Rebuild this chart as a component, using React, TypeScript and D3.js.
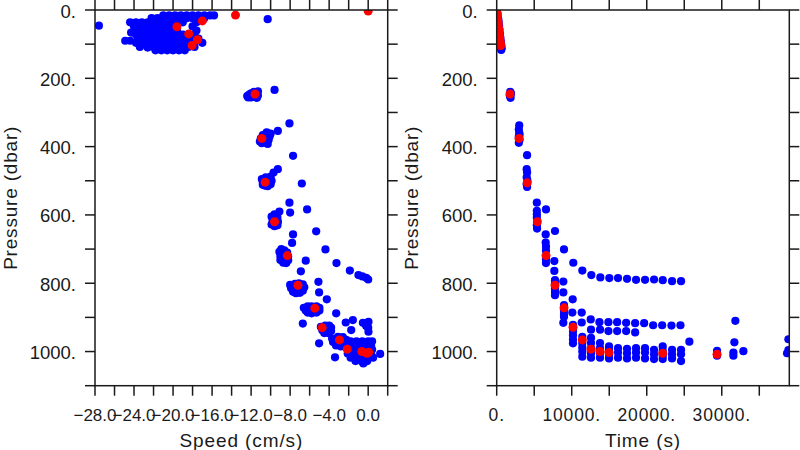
import React from "react";
import * as d3 from "d3";

type P = [number, number];

// ---------- Left panel: speed (cm/s) vs pressure (dbar) ----------
const speedSurfaceBlob: P[] = [
  [-21.0,16],[-20.4,16],[-19.8,16],[-19.2,16],[-18.6,16],[-18.0,16],[-17.4,16],[-16.8,16],[-16.2,16],[-15.8,16],
  [-22.2,24],[-21.6,24],[-21.0,24],[-20.4,24],[-19.8,24],[-19.2,24],[-18.6,24],[-18.0,24],[-17.4,24],[-16.8,24],
  [-24.4,36],[-23.8,36],[-23.2,36],[-22.6,36],[-22.0,36],[-21.4,36],[-20.8,36],[-20.2,36],[-19.6,36],[-19.0,36],[-17.6,36],
  [-24.0,48],[-23.4,48],[-22.8,48],[-22.2,48],[-21.6,48],[-21.0,48],[-20.4,48],[-19.8,48],[-18.0,48],
  [-23.8,60],[-23.2,60],[-22.6,60],[-22.0,60],[-21.4,60],[-20.8,60],[-20.2,60],[-19.6,60],[-17.6,60],
  [-23.8,72],[-23.2,72],[-22.6,72],[-22.0,72],[-21.4,72],[-20.8,72],[-20.2,72],[-19.6,72],[-19.0,72],[-17.8,72],
  [-23.6,84],[-23.0,84],[-22.4,84],[-21.8,84],[-21.2,84],[-20.6,84],[-20.0,84],[-19.4,84],[-18.8,84],[-18.2,84],[-17.4,84],
  [-23.8,96],[-23.2,96],[-22.6,96],[-22.0,96],[-21.4,96],[-20.8,96],[-20.2,96],[-19.6,96],[-19.0,96],[-18.4,96],[-17.8,96],[-17.0,96],
  [-23.4,108],[-22.6,108],[-22.0,108],[-21.4,108],[-20.8,108],[-20.2,108],[-19.6,108],[-19.0,108],[-18.4,108],[-17.8,108],
  [-21.8,118],[-21.2,118],[-20.6,118],[-20.0,118],[-19.4,118],[-18.8,118],
  [-27.6,46],[-24.9,90],[-24.4,90],[-24.3,66],[-22.6,110],[-10.3,27],
];
const speedMidDepth: P[] = [
  [-12.4,252],[-12.2,248],[-12.0,256],[-11.6,255],[-11.3,250],[-11.4,242],[-11.7,240],[-12.0,244],[-12.3,256],[-11.8,250],[-11.4,257],[-11.3,238],[-9.6,234],
  [-11.1,385],[-10.9,390],[-10.5,388],[-10.2,380],[-10.1,370],[-10.0,362],[-10.4,358],[-10.8,366],[-11.0,376],[-10.6,375],[-10.3,392],[-9.26,354],[-8.07,332],
  [-10.9,495],[-10.8,505],[-10.6,514],[-10.3,516],[-10.0,510],[-9.9,500],[-10.2,492],[-10.0,488],[-10.5,490],[-10.8,512],[-9.7,476],[-9.26,466],[-6.8,508],[-7.7,427],
  [-8.07,564],[-8.0,593],[-6.26,584],
  [-9.9,605],[-9.8,618],[-9.9,628],[-9.6,633],[-9.3,630],[-9.25,620],[-9.3,608],[-9.4,600],[-9.6,598],[-9.1,590],[-9.5,612],
  [-7.7,657],[-7.8,682],[-5.33,648],[-4.38,701],
  [-9.1,708],[-9.0,720],[-9.0,732],[-8.7,740],[-8.4,741],[-8.2,733],[-8.2,722],[-8.3,710],[-8.6,704],[-8.9,700],[-8.6,728],
  [-6.4,734],[-6.9,765],[-3.25,741],[-1.88,763],[-1.0,776],[-0.6,780],[-0.2,784],[0.0,789],
];
const speedDeep: P[] = [
  [-8.0,805],[-7.9,815],[-7.7,825],[-7.4,829],[-7.0,828],[-6.7,822],[-6.55,812],[-6.7,803],[-7.1,800],[-7.5,802],[-7.4,815],[-6.9,815],
  [-5.1,796],[-5.03,827],[-4.24,847],
  [-6.6,872],[-6.4,880],[-6.2,886],[-5.8,888],[-5.3,886],[-5.0,880],[-5.0,872],[-5.3,868],[-5.8,868],[-6.2,868],[-5.9,878],[-5.5,878],[-6.7,918],
  [-3.28,888],[-2.3,915],[-1.57,908],[-1.74,937],[-0.54,916],[0.03,913],[0.03,942],[-0.2,925],[0.0,930],
  [-4.85,928],[-4.7,938],[-4.5,946],[-4.1,946],[-3.8,940],[-3.8,930],[-4.0,924],[-4.4,924],[-4.3,935],[-5.03,976],
  [-3.7,962],[-3.6,972],[-3.3,982],[-2.8,985],[-2.3,978],[-2.25,966],[-2.6,958],[-3.1,957],[-3.3,966],[-2.8,972],[-3.4,1017],
  [-1.8,970],[-1.2,970],[-0.6,970],[0.0,970],[0.4,970],
  [-2.1,982],[-1.5,982],[-0.9,982],[-0.3,982],[0.3,982],
  [-2.0,994],[-1.4,994],[-0.8,994],[-0.2,994],[0.4,994],
  [-2.1,1006],[-1.5,1006],[-0.9,1006],[-0.3,1006],[0.3,1006],
  [-1.8,1018],[-1.2,1018],[-0.6,1018],[0.0,1018],[0.5,1018],
  [-1.3,1028],[-0.7,1028],[-0.1,1028],[-0.5,1035],[1.23,1007],
];
const speedMeans: P[] = [
  [0.0,3],[-13.6,15],[-17.0,32],[-19.6,49],[-18.4,70],[-17.5,87],[-18.05,104],
  [-11.6,246],[-10.9,376],[-10.56,504],[-9.6,620],[-8.28,719],[-7.2,806],[-5.47,873],
  [-4.72,930],[-2.94,966],[-2.15,993],[-0.65,1000],[-0.13,1005],[0.05,1002],
];

// ---------- Right panel: time (s) vs pressure (dbar) ----------
const timeDescent: P[] = [
  [120,12],[200,25],[260,35],[320,47],[380,58],[440,70],[500,82],[560,93],[620,104],[660,112],[600,117],
  [1800,240],[1850,246],[1800,252],[1850,257],[1900,244],[1750,250],
  [3000,338],[2950,350],[3000,360],[2950,370],[3050,380],[2950,389],[3050,365],
  [4050,425],[4000,466],[4050,476],[4000,490],[4100,500],[4000,510],[4050,518],
  [5350,564],[5350,588],[5350,598],[5350,608],[5350,630],[5380,640],[6570,584],
  [6530,657],[6530,681],[7770,647],[6570,693],[6570,705],[6570,730],[6570,741],[8970,701],[7680,735],[7680,764],[10210,740],
  [7770,791],[7770,800],[7770,815],[7770,825],[7770,835],[8880,795],[8880,827],[10130,847],
  [8970,864],[8970,880],[8970,890],[8970,898],[10080,886],[11330,886],[8880,916],
  [10170,922],[10170,940],[10170,952],[10170,965],[10170,976],
  [11410,957],[11410,975],[11410,988],[11410,1000],[11410,1015],
];
const timeParked: P[] = [
  [11413,763],[12613,776],[13813,783],[15013,785],[16173,785],[17373,787],[18573,790],[19773,790],[20973,789],[22133,791],[23373,794],[24573,794],
  [11333,915],[12533,906],[13693,914],[14893,914],[16053,914],[17253,916],[18453,917],[19653,917],[20853,923],[22053,923],[23293,924],[24493,923],
  [12573,936],[13773,936],[14893,940],[16053,940],[17253,940],[18453,944],
  [12570,960],[12570,975],[12570,990],[12570,1005],[12570,1018],
  [13770,975],[13770,990],[13770,1005],[13770,1018],
  [14970,985],[14970,995],[14970,1010],[14970,1020],
  [16170,990],[16170,1003],[16170,1018],
  [17370,992],[17370,1005],[17370,1020],
  [18570,990],[18570,1003],[18570,1018],
  [19770,990],[19770,1003],[19770,1020],
  [20970,995],[20970,1008],[20970,1022],
  [22130,985],[22130,998],[22130,1012],[22130,1022],
  [23370,995],[23370,1008],[23370,1020],
  [24570,995],[24570,1008],[24570,1028],
  [25680,971],[29370,998],[29370,1012],[31810,910],[31680,973],[31550,1003],[31550,1012],[32880,999],
  [38880,964],[38700,1005],[38880,996],
];
const timeMeans: P[] = [
  [0,2],[40,10],[80,18],[130,28],[180,38],[230,48],[280,58],[330,68],[380,78],[430,88],[480,96],[530,104],
  [1773,246],[2973,376],[4070,506],[5413,620],[6573,719],[7773,806],[8973,872],[10173,929],[11413,966],
  [12570,993],[13770,1000],[14970,1003],[22130,1005],[29370,1008],
];

// ---------- Axes ----------
const speedTicks = [-28,-26,-24,-22,-20,-18,-16,-14,-12,-10,-8,-6,-4,-2,0,2];
const speedLabels = [-28,-24,-20,-16,-12,-8,-4,0];
const timeTicks = [0,5000,10000,15000,20000,25000,30000,35000];
const timeLabels = [0,10000,20000,30000];
const pressureTicks = [0,100,200,300,400,500,600,700,800,900,1000,1100];
const pressureLabels = [0,200,400,600,800,1000];

const FONT = "'Liberation Sans', Arial, sans-serif";
const INK = "#1a1a1a";
const TICK = 10;

interface PanelProps {
  id: string;
  x: d3.ScaleLinear<number, number>;
  y: d3.ScaleLinear<number, number>;
  xTicks: number[];
  xLabels: number[];
  xFmt: (v: number) => string;
  xFontSize: number;
  xLetter: number;
  xTitle: string;
  blue: P[];
  red: P[];
}

function Panel(p: PanelProps) {
  const [x0, x1] = p.x.range();
  const [y0, y1] = p.y.range();
  const cx = (x0 + x1) / 2;
  const cy = (y0 + y1) / 2;
  return (
    <g>
      <defs>
        <clipPath id={p.id}>
          <rect x={x0} y={y0} width={x1 - x0} height={y1 - y0} />
        </clipPath>
      </defs>
      <g clipPath={`url(#${p.id})`}>
        {p.blue.map((d, i) => (
          <circle key={"b" + i} cx={p.x(d[0])} cy={p.y(d[1])} r={4.1} fill="#0000ff" />
        ))}
        {p.red.map((d, i) => (
          <circle key={"r" + i} cx={p.x(d[0])} cy={p.y(d[1])} r={4.5} fill="#ff0000" />
        ))}
      </g>
      <rect x={x0} y={y0} width={x1 - x0} height={y1 - y0} fill="none" stroke={INK} strokeWidth={1.5} />
      {p.xTicks.map((t) => (
        <g key={"xt" + t}>
          <line x1={p.x(t)} x2={p.x(t)} y1={y1} y2={y1 + TICK} stroke={INK} strokeWidth={1.5} />
          <line x1={p.x(t)} x2={p.x(t)} y1={y0} y2={y0 - TICK} stroke={INK} strokeWidth={1.5} />
        </g>
      ))}
      {pressureTicks.map((t) => (
        <g key={"yt" + t}>
          <line x1={x0} x2={x0 - TICK} y1={p.y(t)} y2={p.y(t)} stroke={INK} strokeWidth={1.5} />
          <line x1={x1} x2={x1 + TICK} y1={p.y(t)} y2={p.y(t)} stroke={INK} strokeWidth={1.5} />
        </g>
      ))}
      {p.xLabels.map((t) => (
        <text key={"xl" + t} x={p.x(t)} y={415} textAnchor="middle" dominantBaseline="central"
          fontFamily={FONT} fontSize={p.xFontSize} letterSpacing={p.xLetter} fill={INK}>
          {p.xFmt(t)}
        </text>
      ))}
      {pressureLabels.map((t) => (
        <text key={"yl" + t} x={x0 - 19} y={p.y(t) + 1} textAnchor="end" dominantBaseline="central"
          fontFamily={FONT} fontSize={18.5} fill={INK}>
          {`${t}.`}
        </text>
      ))}
      <text x={cx} y={440} textAnchor="middle" dominantBaseline="central" fontFamily={FONT}
        fontSize={19} letterSpacing={0.9} fill={INK}>
        {p.xTitle}
      </text>
      <text transform={`translate(${x0 - 85},${cy}) rotate(-90)`} textAnchor="middle" dominantBaseline="central"
        fontFamily={FONT} fontSize={19} letterSpacing={0.8} fill={INK}>
        Pressure (dbar)
      </text>
    </g>
  );
}

export default function App() {
  const yLeft = d3.scaleLinear().domain([0, 1100]).range([10, 385.7]);
  const xSpeed = d3.scaleLinear().domain([-28, 2]).range([95, 387.7]);
  const xTime = d3.scaleLinear().domain([0, 39000]).range([496.7, 789.3]);
  const fmtSpeed = (v: number) => (v < 0 ? "\u2212" + Math.abs(v).toFixed(1) : v.toFixed(1));
  return (
    <svg width={800} height={450} style={{ position: "absolute", left: 0, top: 0, background: "#fff" }}>
      <rect width={800} height={450} fill="#fff" />
      <Panel id="clipL" x={xSpeed} y={yLeft} xTicks={speedTicks} xLabels={speedLabels} xFmt={fmtSpeed}
        xFontSize={17} xLetter={0} xTitle="Speed (cm/s)"
        blue={[...speedSurfaceBlob, ...speedMidDepth, ...speedDeep]} red={speedMeans} />
      <Panel id="clipR" x={xTime} y={yLeft} xTicks={timeTicks} xLabels={timeLabels} xFmt={(v) => `${v}.`}
        xFontSize={17.5} xLetter={0.8} xTitle="Time (s)"
        blue={[...timeDescent, ...timeParked]} red={timeMeans} />
    </svg>
  );
}
